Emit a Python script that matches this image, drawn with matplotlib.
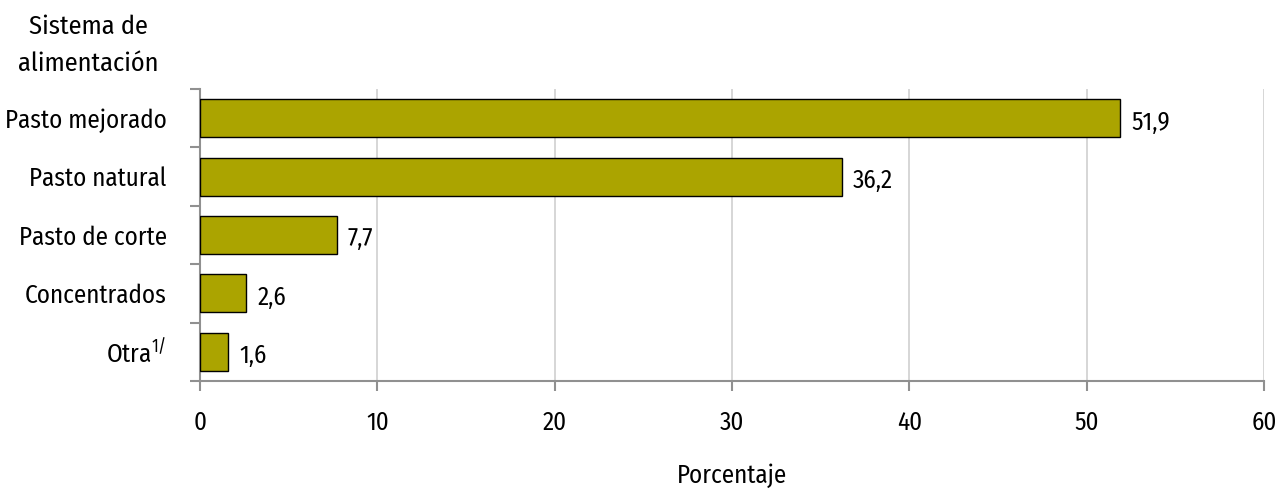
import matplotlib
matplotlib.use("Agg")
import matplotlib.pyplot as plt
import numpy as np

categories = ["Pasto mejorado", "Pasto natural", "Pasto de corte", "Concentrados", "Otra$^{1/}$"]
values = [51.9, 36.2, 7.7, 2.6, 1.6]
xticks = [0, 10, 20, 30, 40, 50, 60]

plt.rcParams["font.family"] = ["Fira Sans Condensed", "DejaVu Sans"]
plt.rcParams["mathtext.default"] = "regular"
plt.rcParams["font.size"] = 18

fig = plt.figure(figsize=(12.86, 4.94), dpi=100)
ax = fig.add_axes([0.1555, 0.2287, 0.983 - 0.1555, 0.82 - 0.2287])

y = np.arange(len(categories))[::-1]
ax.barh(y, values, height=0.65, color="#aba400", edgecolor="black", linewidth=1, zorder=3)

for yi, v in zip(y, values):
    ax.annotate(f"{v:.1f}".replace(".", ","), (v, yi), xytext=(8, -3),
                textcoords="offset points", va="center", ha="left")

ax.set_xlim(0, 60)
ax.set_ylim(-0.5, len(categories) - 0.5)
ax.set_xticks(xticks)
ax.set_xticklabels([str(t) for t in xticks])

# labels at bar centres, tick marks at category boundaries
ax.set_yticks(np.arange(-0.5, len(categories)), labels=[""] * (len(categories) + 1))
ax.set_yticks(y, labels=categories, minor=True)
ax.tick_params(axis="y", which="minor", length=0, pad=24)
ax.tick_params(axis="y", which="major", length=7, color="#909090", width=1.5)
ax.tick_params(axis="x", length=7, color="#909090", width=1.5, pad=14)

ax.grid(axis="x", color="#d0d0d0", linewidth=1.2, zorder=0)
for s in ["top", "right"]:
    ax.spines[s].set_visible(False)
for s in ["left", "bottom"]:
    ax.spines[s].set_color("#909090")
    ax.spines[s].set_linewidth(1.5)

ax.set_xlabel("Porcentaje", labelpad=20)
fig.text(88 / 1286, 1 - 45 / 494, "Sistema de\nalimentación", ha="center", va="center",
         fontsize=19, fontweight="normal", linespacing=1.6)

fig.savefig("out.png", dpi=100)
